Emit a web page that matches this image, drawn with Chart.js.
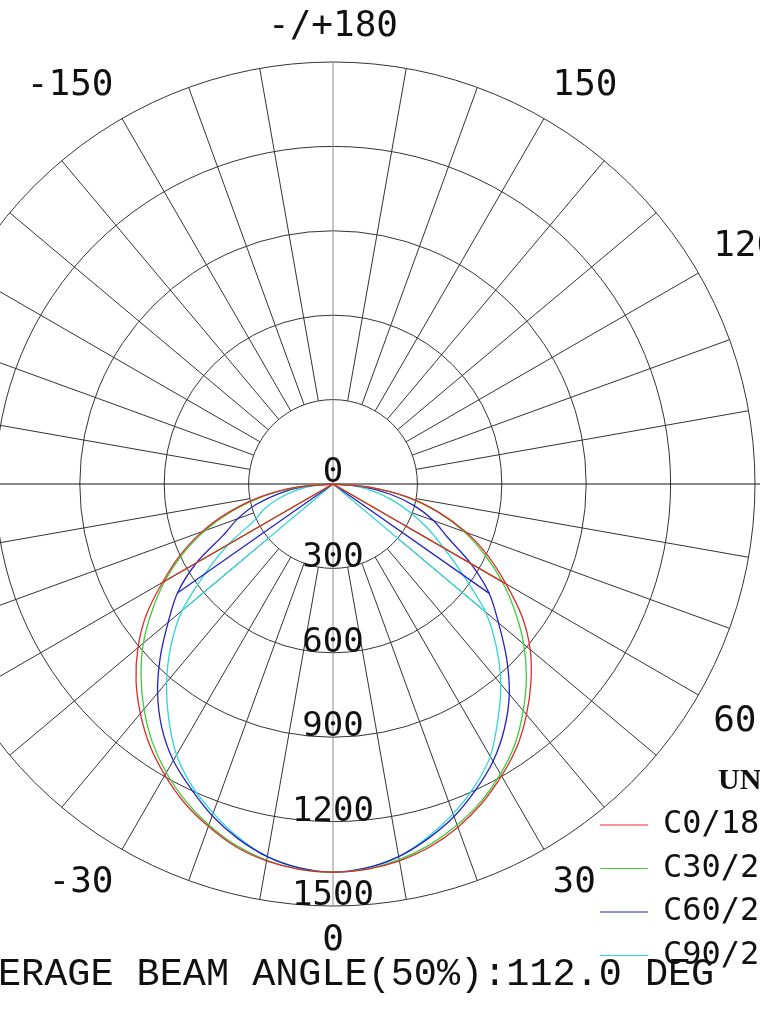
<!DOCTYPE html>
<html>
<head>
<meta charset="utf-8">
<script src="https://cdn.jsdelivr.net/npm/chart.js@4.4.1/dist/chart.umd.min.js"></script>
<style>
  html, body { margin: 0; padding: 0; background: #fff; overflow: hidden; }
</style>
</head>
<body>
<canvas id="polar" width="760" height="1013"></canvas>
<script>
// gamma angles, 0 = straight down, positive to the right
var gammaAngles = [-90,-85,-80,-75,-70,-65,-60,-55,-50,-45,-40,-35,-30,-25,-20,-15,-10,-5,0,
                   5,10,15,20,25,30,35,40,45,50,55,60,65,70,75,80,85,90];

// candela values
var c0Values  = [0,130,262,380,495,600,700,810,905,990,1065,1135,1195,1250,1295,1335,1360,1375,1380,
                 1375,1360,1335,1298,1252,1198,1140,1070,995,915,820,710,610,505,390,270,135,0];
var c30Values = [0,125,250,370,485,590,690,785,880,965,1045,1120,1185,1242,1290,1330,1358,1374,1380,
                 1374,1356,1328,1290,1245,1190,1128,1052,972,885,790,695,595,495,385,265,130,0];
var c60Values = [0,100,195,285,360,430,560,675,765,868,970,1060,1135,1195,1255,1305,1345,1370,1380,
                 1370,1345,1305,1258,1200,1138,1062,975,872,768,678,565,450,380,300,205,105,0];
var c90Values = [0,70,135,200,260,310,430,555,700,815,920,1018,1112,1185,1245,1300,1345,1370,1380,
                 1370,1345,1300,1248,1188,1118,1022,928,822,708,565,455,370,290,215,145,75,0];

var seriesNames  = ['C0/180', 'C30/210', 'C60/240', 'C90/270'];
var seriesValues = [c0Values, c30Values, c60Values, c90Values];
var seriesColors = ['#dd2b2b', '#3ccc3c', '#2323c4', '#2fd6d6'];
var kinkAngles   = [60, 60, 55, 50];

var ringValues  = [300, 600, 900, 1200, 1500];
var ringLabels  = ['0', '300', '600', '900', '1200', '1500'];
var angleTicks  = [0, 30, 60, 90, 120, 150, 180, -150, -120, -90, -60, -30];
var angleLabels = ['0', '30', '60', '90', '120', '150', '-/+180', '-150', '-120', '-90', '-60', '-30'];

var beamText = 'AVERAGE BEAM ANGLE(50%):112.0 DEG';
var unitText = 'UNIT:cd';

// 1500 cd ring is 422px, centre of the diagram sits at (333, 484)
var k = 422 / 1500;
var xMin = -333 / k, xMax = 427 / k;
var yMax = 484 / k, yMin = -529 / k;

function toXY(angle, value) {
    var a = angle * Math.PI / 180;
    return { x: value * Math.sin(a), y: -value * Math.cos(a) };
}

var datasets = [];
for (var s = 0; s < seriesNames.length; s++) {
    var vals = seriesValues[s];
    datasets.push({
        label: seriesNames[s],
        data: gammaAngles.map(function (g, i) { return toXY(g, vals[i]); }),
        borderColor: seriesColors[s],
        borderWidth: 1.3,
        showLine: true,
        pointRadius: 0,
        tension: 0.3
    });
    var kk = kinkAngles[s];
    datasets.push({
        label: seriesNames[s] + ' chord',
        data: [toXY(-kk, vals[gammaAngles.indexOf(-kk)]), { x: 0, y: 0 }, toXY(kk, vals[gammaAngles.indexOf(kk)])],
        borderColor: seriesColors[s],
        borderWidth: 1.3,
        showLine: true,
        pointRadius: 0,
        tension: 0
    });
}

var polarGrid = {
    id: 'polarGrid',
    beforeDatasetsDraw: function (chart) {
        var c = chart.ctx, xs = chart.scales.x, ys = chart.scales.y;
        var cx = xs.getPixelForValue(0), cy = ys.getPixelForValue(0);
        var rad = function (v) { return xs.getPixelForValue(v) - cx; };
        c.save();
        c.strokeStyle = '#333';
        c.lineWidth = 1;
        for (var i = 0; i < ringValues.length; i++) {
            c.beginPath();
            c.arc(cx, cy, rad(ringValues[i]), 0, Math.PI * 2);
            c.stroke();
        }
        for (var a = 0; a < 360; a += 10) {
            if (a % 90 == 0) continue;
            var p1 = toXY(a, ringValues[0]), p2 = toXY(a, ringValues[ringValues.length - 1]);
            c.beginPath();
            c.moveTo(xs.getPixelForValue(p1.x), ys.getPixelForValue(p1.y));
            c.lineTo(xs.getPixelForValue(p2.x), ys.getPixelForValue(p2.y));
            c.stroke();
        }
        var rOut = rad(1500);
        c.strokeStyle = '#8c8c8c';
        c.beginPath();
        c.moveTo(cx, cy - rOut);
        c.lineTo(cx, cy + rOut);
        c.stroke();
        c.strokeStyle = '#111';
        c.beginPath();
        c.moveTo(chart.chartArea.left, cy);
        c.lineTo(chart.chartArea.right, cy);
        c.stroke();
        c.restore();
    },
    afterDatasetsDraw: function (chart) {
        var c = chart.ctx, xs = chart.scales.x, ys = chart.scales.y;
        var cx = xs.getPixelForValue(0), cy = ys.getPixelForValue(0);
        c.save();
        c.fillStyle = '#111';
        c.font = '34px "DejaVu Sans Mono"';
        c.textAlign = 'center';
        c.textBaseline = 'alphabetic';
        // ring labels
        c.fillText(ringLabels[0], cx, cy - 2);
        for (var i = 0; i < ringValues.length; i++) {
            c.fillText(ringLabels[i + 1], cx, ys.getPixelForValue(-ringValues[i]) - 1);
        }
        // angle labels: anchored just outside the outer ring, text pushed away from the circle
        c.font = '36px "DejaVu Sans Mono"';
        c.textBaseline = 'middle';
        var rOut = xs.getPixelForValue(1500) - cx;
        for (var j = 0; j < angleTicks.length; j++) {
            var a = angleTicks[j] * Math.PI / 180;
            var sn = Math.sin(a), cs = Math.cos(a);
            var r = rOut + 17;
            c.textAlign = sn > 0.01 ? 'left' : (sn < -0.01 ? 'right' : 'center');
            var dy = Math.abs(cs) < 0.01 ? 0 : (cs > 0 ? 18 : -18);
            c.fillText(angleLabels[j], cx + r * sn, cy + r * cs + dy);
        }
        // legend
        var lx = 600, ly = 825;
        c.textAlign = 'left';
        c.font = 'bold 30px "Liberation Serif"';
        c.fillText(unitText, 718, 781);
        c.font = '32px "DejaVu Sans Mono"';
        for (var s = 0; s < seriesNames.length; s++) {
            var y = ly + s * 43.5;
            c.strokeStyle = seriesColors[s];
            c.lineWidth = 1;
            c.beginPath();
            c.moveTo(lx, y);
            c.lineTo(lx + 48, y);
            c.stroke();
            c.fillText(seriesNames[s], lx + 63, y);
        }
        // beam angle caption
        c.textAlign = 'center';
        c.textBaseline = 'alphabetic';
        c.font = '38.5px "Liberation Mono"';
        c.fillText(beamText, cx, 985);
        c.restore();
    }
};

var chart = new Chart(document.getElementById('polar'), {
    type: 'scatter',
    data: { datasets: datasets },
    options: {
        responsive: false,
        animation: false,
        devicePixelRatio: 1,
        layout: { padding: 0 },
        plugins: { legend: { display: false }, tooltip: { enabled: false } },
        scales: {
            x: { type: 'linear', min: xMin, max: xMax, display: false },
            y: { type: 'linear', min: yMin, max: yMax, display: false }
        }
    },
    plugins: [polarGrid]
});
</script>
</body>
</html>
